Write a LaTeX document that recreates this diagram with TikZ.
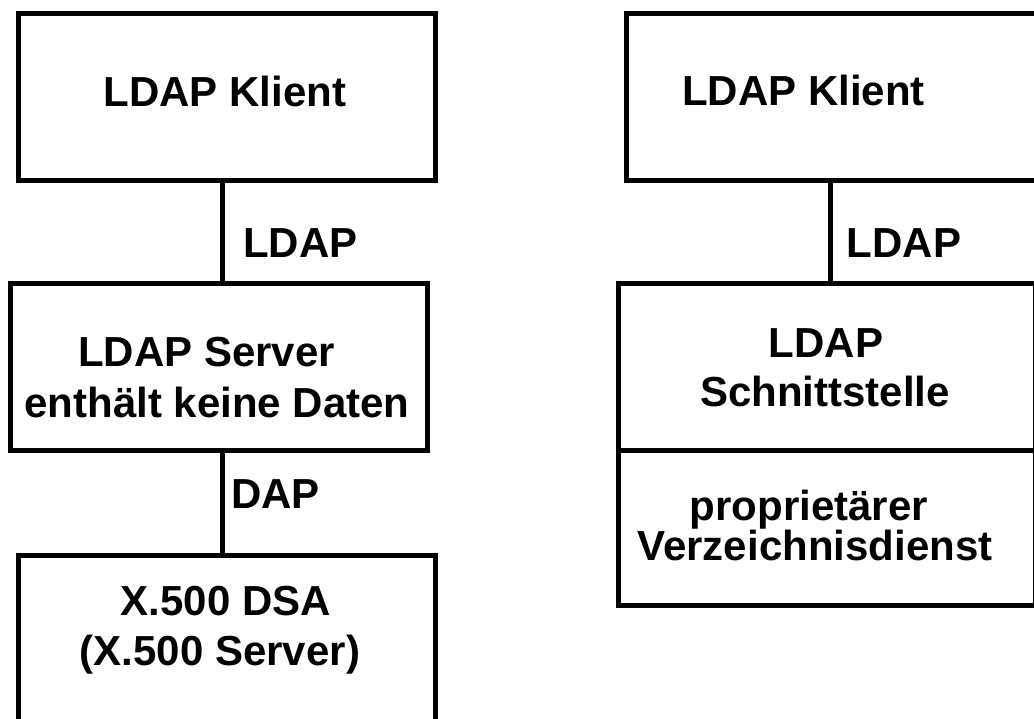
\documentclass[tikz,border=0pt]{standalone}
\usepackage{fontspec}
\setmainfont{Liberation Sans}
\begin{document}
\begin{tikzpicture}[x=1pt,y=-1pt,
  box/.style={draw, line width=5pt, inner sep=0pt, outer sep=0pt},
  lbl/.style={inner sep=0pt, font=\fontsize{42}{50}\selectfont\bfseries},
  conn/.style={line width=5pt}]
\useasboundingbox (0,0) rectangle (1034,718);
% left column boxes
\node[box, minimum width=417pt, minimum height=167pt] (lk) at (226.5,96.5) {};
\node[box, minimum width=417pt, minimum height=167pt] (ls) at (218.5,366.5) {};
\node[box, minimum width=417pt, minimum height=185pt] (ld) at (226.5,647.5) {};
% right column boxes
\node[box, minimum width=414pt, minimum height=167pt] (rk) at (833,96.5) {};
\node[box, minimum width=417pt, minimum height=167pt] (rs) at (826.5,366.5) {};
\node[box, minimum width=417pt, minimum height=155pt] (rp) at (826.5,527.5) {};
% connectors
\draw[conn] ([xshift=-4.5pt]lk.south) -- ([xshift=-4.5pt]lk.south |- ls.north);
\draw[conn] ([xshift=3.5pt]ls.south) -- ([xshift=3.5pt]ls.south |- ld.north);
\draw[conn] ([xshift=-2.5pt]rk.south) -- ([xshift=-2.5pt]rk.south |- rs.north);
% connector labels
\node[lbl, anchor=base] (l1) at (300.5,257) {LDAP};
\node[lbl, anchor=base] (l2) at (275.5,508) {DAP};
\node[lbl, anchor=base] (l3) at (904,257) {LDAP};
% box texts
\node[lbl, anchor=base] (t1) at (225,106) {LDAP Klient};
\node[lbl, anchor=base] (t2a) at (206.5,366) {LDAP Server};
\node[lbl, anchor=base] (t2b) at (217,417) {enthält keine Daten};
\node[lbl, anchor=base] (t3a) at (226,615) {X.500 DSA};
\node[lbl, anchor=base] (t3b) at (220,665) {(X.500 Server)};
\node[lbl, anchor=base] (t4) at (803.5,105) {LDAP Klient};
\node[lbl, anchor=base] (t5a) at (826,357) {LDAP};
\node[lbl, anchor=base] (t5b) at (825,406) {Schnittstelle};
\node[lbl, anchor=base] (t6a) at (809,520) {proprietärer};
\node[lbl, anchor=base] (t6b) at (815,560) {Verzeichnisdienst};
\end{tikzpicture}
\end{document}
